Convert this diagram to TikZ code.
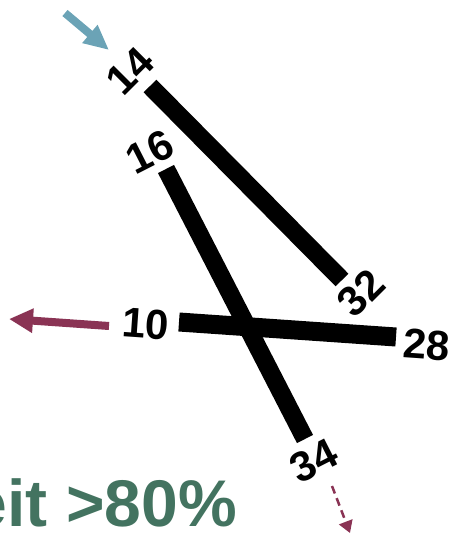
\documentclass[tikz,border=0pt]{standalone}
\usepackage{fontspec}
\setmainfont{Liberation Sans}
\usetikzlibrary{arrows.meta}

\definecolor{flowblue}{HTML}{6BA3B6}
\definecolor{flowred}{HTML}{8A3354}
\definecolor{ratiogreen}{HTML}{437360}

\begin{document}
\begin{tikzpicture}[
    x=1pt, y=-1pt,
    bar/.style={line width=18pt, line cap=butt},
    endlbl/.style={inner sep=0pt, font=\fontsize{42}{42}\selectfont\bfseries},
    inflow/.style={-{Triangle[length=25pt, width=22pt]}, line width=8pt, flowblue},
    outflow/.style={-{Triangle[length=24pt, width=23pt]}, line width=8pt, flowred},
    leak/.style={-{Triangle[length=12pt, width=14pt]}, line width=2.5pt,
        flowred, dash pattern=on 8pt off 5pt},
]
\useasboundingbox (0,0) rectangle (452,533);

% === Bar ends ===
\coordinate (e14) at (150,86);
\coordinate (e32) at (342,280);
\coordinate (e16) at (166,169);
\coordinate (e34) at (305,439);
\coordinate (e10) at (179,322);
\coordinate (e28) at (396,337);

% === Bars ===
\draw[bar] (e14) -- (e32);
\draw[bar] (e16) -- (e34);
\draw[bar, line width=19pt] (e10) -- (e28);

% === End labels ===
\node[endlbl, rotate=45] (l14) at (130,71) {14};
\node[endlbl, rotate=45] (l32) at (361,293) {32};
\node[endlbl, rotate=27] (l16) at (150,152) {16};
\node[endlbl, rotate=27] (l34) at (314,461) {34};
\node[endlbl, rotate=-4] (l10) at (146,324) {10};
\node[endlbl, rotate=-4] (l28) at (427,345) {28};

% === Flows ===
\coordinate (insrc) at (65,13);
\coordinate (intip) at (109,50);
\draw[inflow] (insrc) -- (intip);

\coordinate (outsrc) at (109,326);
\coordinate (outtip) at (9,319);
\draw[outflow] (outsrc) -- (outtip);

\coordinate (leaksrc) at (332,486);
\coordinate (leaktip) at (350,533);
\draw[leak] (leaksrc) -- (leaktip);

% === Ratio ===
\node[inner sep=0pt, anchor=base east, text=ratiogreen,
    font=\fontsize{66}{66}\selectfont\bfseries] (ratio) at (237,526) {eit >80\%};

\end{tikzpicture}
\end{document}
